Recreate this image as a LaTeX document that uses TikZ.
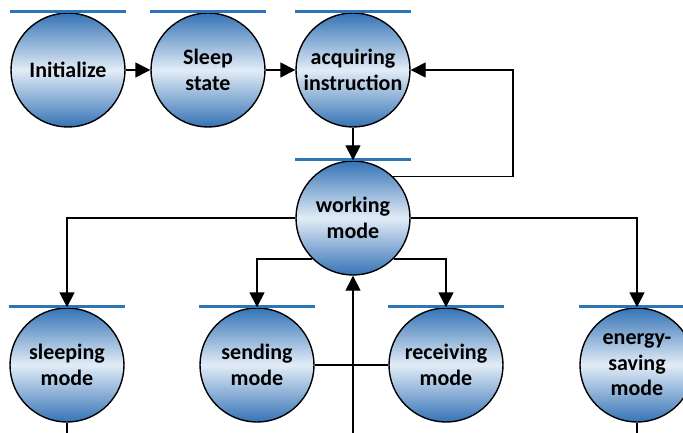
\documentclass[tikz,border=0pt]{standalone}
\usepackage{fontspec}
\setmainfont{Carlito}
\usetikzlibrary{arrows.meta,calc}
\definecolor{statedark}{HTML}{3573B5}
\definecolor{statelight}{HTML}{E2ECF7}
\definecolor{barblue}{HTML}{2E75B6}
\tikzset{
  state/.style={circle, draw=black, line width=1.4pt, minimum size=114pt, inner sep=0pt,
    top color=statedark, bottom color=statedark, middle color=statelight,
    align=center, font=\fontsize{22}{25.5}\selectfont\bfseries},
  link/.style={draw=black, line width=1.4pt},
  arr/.style={link, -{Triangle[length=15pt,width=15pt]}},
  topbar/.style={draw=barblue, line width=3.2pt}
}
\begin{document}
\begin{tikzpicture}[x=1pt,y=-1pt]
  \useasboundingbox (0,0) rectangle (683,433);
  % state circles
  \node[state] (init) at (68,70) {Initialize};
  \node[state] (sleep) at (208,70) {Sleep\\state};
  \node[state] (acq) at (353,70) {acquiring\\instruction};
  \node[state] (work) at (353,218) {working\\mode};
  \node[state] (slm) at (67,365) {sleeping\\mode};
  \node[state] (snd) at (257,365) {sending\\mode};
  \node[state] (rcv) at (446,365) {receiving\\mode};
  \node[state] (eng) at (637,365) {energy-\\saving\\mode};
  % blue bars above each state
  \foreach \n in {init,sleep,acq,work,slm,snd,rcv,eng}
    \draw[topbar] ($(\n.north)+(-58,-1)$) -- ($(\n.north)+(58,-1)$);
  % free ends of connectors at the lower edge
  \coordinate (fb) at (513,120);
  \coordinate (upin) at (353,433);
  \coordinate (slmout) at (67,433);
  \coordinate (engout) at (637,433);
  % top row
  \draw[arr] (init) -- (sleep);
  \draw[arr] (sleep) -- (acq);
  \draw[arr] (acq) -- (work);
  % feedback loop to acquiring instruction
  \draw[arr] (work.46) -- (work.46 -| fb) -- (fb |- acq.east) -- (acq.east);
  % branches from working mode
  \draw[arr] (work.west) -| (slm.north);
  \draw[arr] (work.east) -| (eng.north);
  \draw[arr] (work.-135) -| (snd.north);
  \draw[arr] (work.-45) -| (rcv.north);
  % bottom links
  \draw[link] (snd.east) -- (rcv.west);
  \draw[arr] (upin) -- (work.south);
  \draw[link] (slm.south) -- (slmout);
  \draw[link] (eng.south) -- (engout);
\end{tikzpicture}
\end{document}
